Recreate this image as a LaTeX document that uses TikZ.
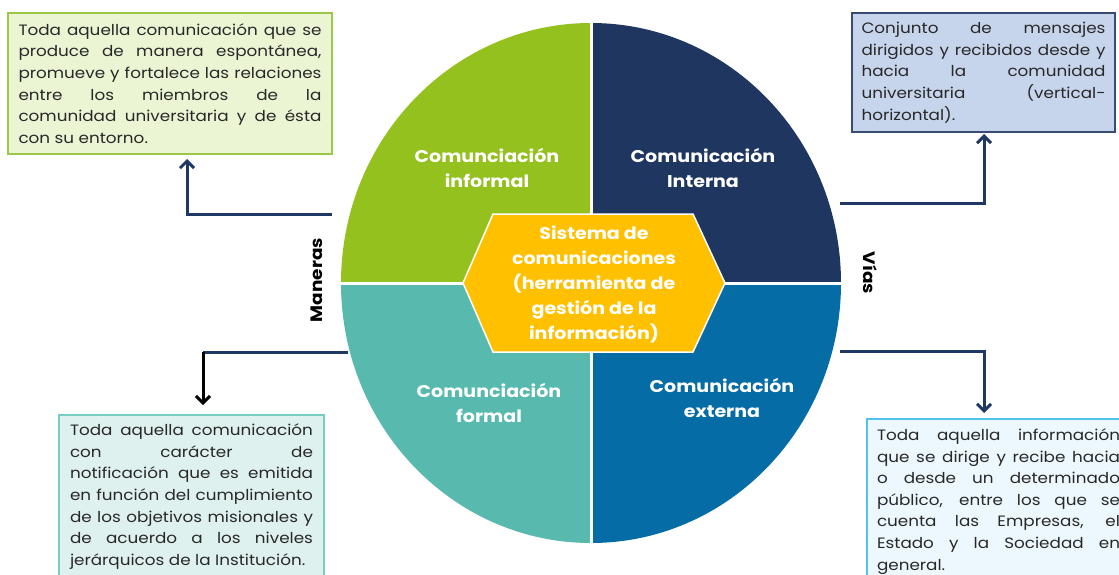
\documentclass[tikz,border=0pt]{standalone}
\usepackage{fontspec}
\setmainfont{Poppins}[FakeStretch=1.12]
\usetikzlibrary{arrows.meta}
\definecolor{cgreen}{HTML}{95C11F}
\definecolor{cnavy}{HTML}{1F3660}
\definecolor{cteal}{HTML}{58BAAF}
\definecolor{cblue}{HTML}{056CA5}
\definecolor{cgold}{HTML}{FFC000}
\definecolor{conn}{HTML}{1F3864}
\definecolor{bAfill}{HTML}{EBF5D4}
\definecolor{bAdraw}{HTML}{9BC846}
\definecolor{bBfill}{HTML}{C6D4EC}
\definecolor{bBdraw}{HTML}{374B73}
\definecolor{bCfill}{HTML}{DEF1EE}
\definecolor{bCdraw}{HTML}{78CDC3}
\definecolor{bDfill}{HTML}{ECF8FD}
\definecolor{bDdraw}{HTML}{50C3EB}
\definecolor{txt}{HTML}{282828}
\newcommand{\jline}[1]{\hbox to \hsize{#1}}
\newcommand{\lline}[1]{\hbox to \hsize{#1\hfil}}
\tikzset{
  infobox/.style={draw, line width=1.5pt, rectangle, inner sep=0pt, text=txt,
    font=\fontsize{15}{21.6}\selectfont},
  quadlabel/.style={text=white, align=center, font=\bfseries\fontsize{17}{25}\selectfont},
  sidelabel/.style={text=black, font=\bfseries\fontsize{16.5}{18}\selectfont},
  connline/.style={draw=conn, line width=3pt},
  connarrow/.style={line width=3pt, -{Straight Barb[length=7pt,width=14pt]}},
}
\begin{document}
\begin{tikzpicture}[x=1pt,y=-1pt]
\useasboundingbox (0,0) rectangle (1119,575);
\clip (0,0) rectangle (1119,575);
% circle quadrants
\begin{scope}
\clip (591,283) ellipse [x radius=250, y radius=260];
\fill[cgreen] (330,10) rectangle (591,283);
\fill[cnavy] (591,10) rectangle (852,283);
\fill[cteal] (330,283) rectangle (591,560);
\fill[cblue] (591,283) rectangle (852,560);
\end{scope}
\draw[white, line width=3pt] (591,15) -- (591,555);
\draw[white, line width=3pt] (335,283) -- (848,283);
% hexagon
\filldraw[fill=cgold, draw=white, line width=1.5pt]
  (463,283) -- (493,214) -- (693,214) -- (725,283) -- (693,352) -- (493,352) -- cycle;
\node[quadlabel] (hex) at (594,284) {Sistema de\\comunicaciones\\(herramienta de\\gestión de la\\información)};
% quadrant labels
\node[quadlabel] (qa) at (487,168) {Comunciación\\informal};
\node[quadlabel] (qb) at (703,168) {Comunicación\\Interna};
\node[quadlabel] (qc) at (489,403) {Comunciación\\formal};
\node[quadlabel] (qd) at (722,398) {Comunicación\\externa};
% side labels
\node[sidelabel, rotate=90] (man) at (317,280) {Maneras};
\node[sidelabel, rotate=-90] (vias) at (870,273) {Vías};
% boxes
\node[infobox, fill=bAfill, draw=bAdraw, minimum width=324pt, minimum height=141pt] (bA) at (170,83.5) {\vbox{\hsize=303pt
\jline{Toda aquella comunicación que se}
\jline{produce de manera espontánea,}
\jline{promueve y fortalece las relaciones}
\jline{entre los miembros de la}
\jline{comunidad universitaria y de ésta}
\lline{con su entorno.}}};
\node[infobox, fill=bBfill, draw=bBdraw, minimum width=263pt, minimum height=119pt] (bB) at (983.5,72.5) {\vbox{\hsize=244pt
\jline{Conjunto de mensajes}
\jline{dirigidos y recibidos desde y}
\jline{hacia la comunidad}
\jline{universitaria (vertical-}
\lline{horizontal).}}};
\node[infobox, fill=bCfill, draw=bCdraw, minimum width=265pt, minimum height=163pt] (bC) at (191.5,496.5) {\vbox{\hsize=243pt
\jline{Toda aquella comunicación}
\jline{con carácter de}
\jline{notificación que es emitida}
\jline{en función del cumplimiento}
\jline{de los objetivos misionales y}
\jline{de acuerdo a los niveles}
\lline{jerárquicos de la Institución.}}};
\node[infobox, fill=bDfill, draw=bDdraw, minimum width=263pt, minimum height=165pt] (bD) at (998.5,501.5) {\vbox{\hsize=243pt
\jline{Toda aquella información}
\jline{que se dirige y recibe hacia}
\jline{o desde un determinado}
\jline{público, entre los que se}
\jline{cuenta las Empresas, el}
\jline{Estado y la Sociedad en}
\lline{general.}}};
% connectors
\coordinate (sA) at (332,214);
\coordinate (tA) at (187,159);
\draw[connline, connarrow] (sA) -| (tA);
\coordinate (sC) at (348,352);
\coordinate (kC) at (203,352);
\coordinate (tC) at (203,405);
\draw[connline] (sC) -- (kC);
\draw[connarrow, draw=black] (kC) -- (tC);
\coordinate (sB) at (840,203);
\coordinate (tB) at (984,134);
\draw[connline, connarrow] (sB) -| (tB);
\coordinate (sD) at (840,351);
\coordinate (tD) at (984,413);
\draw[connline, connarrow] (sD) -| (tD);
\end{tikzpicture}
\end{document}
